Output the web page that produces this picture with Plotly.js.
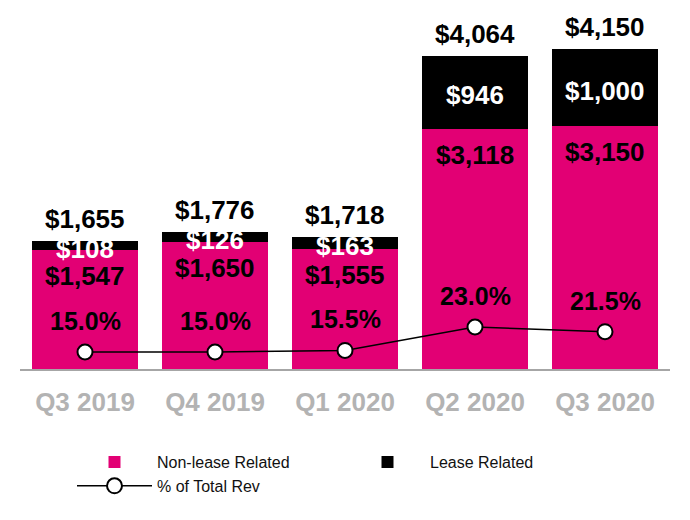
<!DOCTYPE html>
<html>
<head>
<meta charset="utf-8">
<script src="https://cdn.plot.ly/plotly-3.0.1.min.js"></script>
<style>html,body{margin:0;padding:0;background:#fff;}#chart{width:690px;height:520px;}</style>
</head>
<body>
<div id="chart"></div>
<script>
var categories = ["Q3 2019", "Q4 2019", "Q1 2020", "Q2 2020", "Q3 2020"];
var nonLease = [1547, 1650, 1555, 3118, 3150];
var lease = [108, 126, 163, 946, 1000];
var totals = [1655, 1776, 1718, 4064, 4150];
var pctOfRev = [15.0, 15.0, 15.5, 23.0, 21.5];

var MAGENTA = "#E20074";
var FONT = "Liberation Sans, Arial, sans-serif";

function money(v) { return "$" + v.toLocaleString("en-US"); }

var traces = [
  {
    type: "bar", name: "Non-lease Related", x: categories, y: nonLease,
    marker: { color: MAGENTA }, hoverinfo: "skip"
  },
  {
    type: "bar", name: "Lease Related", x: categories, y: lease,
    marker: { color: "#000000" }, hoverinfo: "skip"
  },
  {
    type: "scatter", mode: "lines+markers", name: "% of Total Rev",
    x: categories, y: pctOfRev, yaxis: "y2",
    line: { color: "#000000", width: 1.5 },
    marker: { size: 15, color: "#ffffff", line: { color: "#000000", width: 2 } },
    hoverinfo: "skip"
  }
];

var annotations = [];
categories.forEach(function (c, i) {
  var base = { x: c, showarrow: false, font: { family: FONT, size: 26, color: "#000" } };
  annotations.push(Object.assign({}, base, { y: totals[i], yref: "y", yanchor: "middle", yshift: 22, text: "<b>" + money(totals[i]) + "</b>" }));
  annotations.push(Object.assign({}, base, { y: nonLease[i] + lease[i] / 2, yref: "y", yanchor: "middle", yshift: -3, text: "<b>" + money(lease[i]) + "</b>", font: { family: FONT, size: 26, color: "#fff" } }));
  annotations.push(Object.assign({}, base, { y: nonLease[i], yref: "y", yanchor: "middle", yshift: -26, text: "<b>" + money(nonLease[i]) + "</b>" }));
  annotations.push(Object.assign({}, base, { y: pctOfRev[i], yref: "y2", yanchor: "middle", yshift: 31, text: "<b>" + pctOfRev[i].toFixed(1) + "%</b>", font: { family: FONT, size: 25, color: "#000" } }));
});

var layout = {
  width: 690, height: 520,
  margin: { l: 20, r: 20, t: 20, b: 151, autoexpand: false },
  paper_bgcolor: "#ffffff", plot_bgcolor: "#ffffff",
  barmode: "stack", bargap: 0.185,
  showlegend: true,
  font: { family: FONT },
  xaxis: {
    showline: true, linecolor: "#a6a6a6", linewidth: 1.5,
    ticks: "", ticklabelstandoff: 9,
    tickfont: { family: FONT, size: 26, color: "#b3b3b3", weight: "bold" },
    showgrid: false, zeroline: false, fixedrange: true, automargin: false
  },
  yaxis: { range: [0, 4527], visible: false, showgrid: false, zeroline: false, fixedrange: true },
  yaxis2: { range: [9.56, 121.2], overlaying: "y", visible: false, showgrid: false, zeroline: false, fixedrange: true },
  legend: {
    orientation: "h", x: 0.08, xanchor: "left", yref: "container", y: 0.144, yanchor: "top",
    itemwidth: 75, entrywidth: 183, entrywidthmode: "pixels",
    font: { family: FONT, size: 16, color: "#111" },
    traceorder: "normal", itemclick: false, itemdoubleclick: false
  },
  annotations: annotations
};

Plotly.newPlot("chart", traces, layout, { displayModeBar: false, staticPlot: true });
</script>
</body>
</html>
